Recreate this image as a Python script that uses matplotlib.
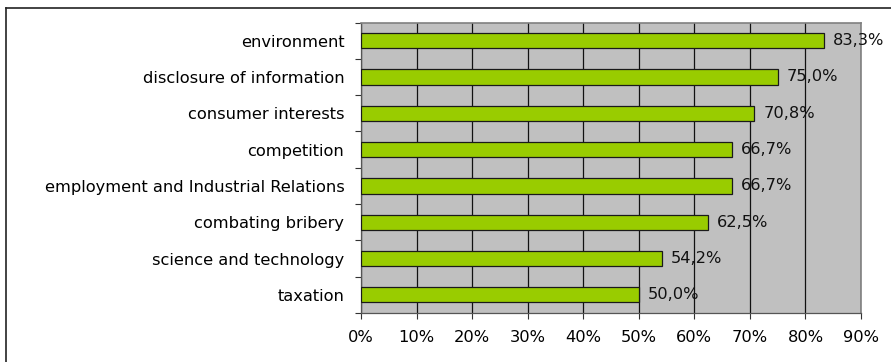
import matplotlib
matplotlib.use("Agg")
import matplotlib.pyplot as plt
from matplotlib.lines import Line2D
from matplotlib.ticker import FixedLocator

categories = ["environment", "disclosure of information", "consumer interests",
              "competition", "employment and Industrial Relations",
              "combating bribery", "science and technology", "taxation"]
values = [83.3, 75.0, 70.8, 66.7, 66.7, 62.5, 54.2, 50.0]
x_ticks = [0, 10, 20, 30, 40, 50, 60, 70, 80, 90]
x_tick_labels = [f"{t}%" for t in x_ticks]

plt.rcParams['font.family'] = ['DejaVu Sans']
FS = 11.7

fig = plt.figure(figsize=(8.91, 3.62), dpi=100)
ax = fig.add_axes([361/891, 1-313/362, (861-361)/891, (313-22.5)/362])
ax.set_facecolor('#C0C0C0')

n = len(categories)
ypos = list(range(n))[::-1]
ax.barh(ypos, values, height=0.42, color='#99CC00', edgecolor='#1a1a1a',
        linewidth=0.9, zorder=3)
for y, v in zip(ypos, values):
    ax.annotate(f"{v:.1f}%".replace('.', ','), xy=(v, y), xytext=(6.5, 0),
                textcoords='offset points', va='center', ha='left',
                fontsize=FS, color='#111111', zorder=4)

ax.set_xlim(0, 90)
ax.set_ylim(-0.5, n - 0.5)
ax.set_xticks(x_ticks)
ax.set_xticklabels(x_tick_labels, fontsize=FS)
ax.set_yticks(ypos)
ax.set_yticklabels(categories, fontsize=FS)
ax.yaxis.set_minor_locator(FixedLocator([i + 0.5 for i in range(-1, n)]))
ax.tick_params(axis='y', which='major', length=0, pad=12)
ax.tick_params(axis='y', which='minor', length=4, width=0.8, color='#333333')
ax.tick_params(axis='x', which='major', length=4, width=0.8, color='#333333', pad=8)
ax.xaxis.grid(True, color='#111111', linewidth=0.9, zorder=1)
ax.set_axisbelow(True)
for side in ['left', 'bottom']:
    ax.spines[side].set_color('#555555')
    ax.spines[side].set_linewidth(0.9)
for side in ['top', 'right']:
    ax.spines[side].set_color('#808080')
    ax.spines[side].set_linewidth(1.2)

# outer chart frame (top and left visible)
fig.add_artist(Line2D([5.5/891, 1], [1-7.5/362, 1-7.5/362], color='#222222', lw=1.2))
fig.add_artist(Line2D([5.5/891, 5.5/891], [0, 1-7.5/362], color='#222222', lw=1.2))

fig.savefig('out.png', dpi=100)
